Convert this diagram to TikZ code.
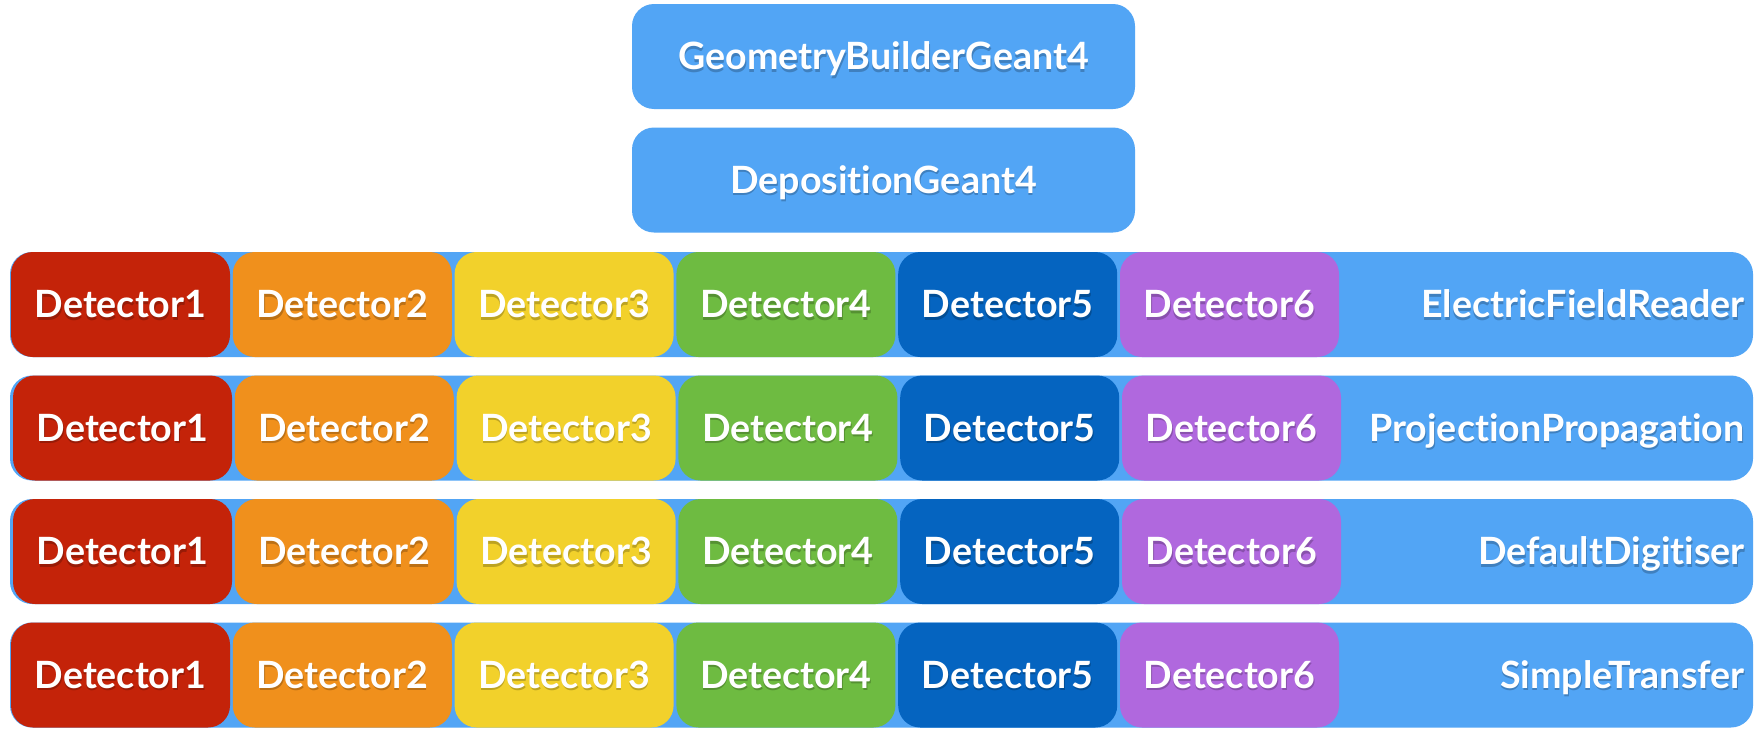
\documentclass[tikz,border=0pt]{standalone}
\usepackage{fontspec}
\setmainfont{Lato}[Ligatures=NoCommon]
\definecolor{cblue}{HTML}{52A5F5}
\definecolor{cred}{HTML}{C42309}
\definecolor{corange}{HTML}{F0901C}
\definecolor{cyellow}{HTML}{F2D12B}
\definecolor{cgreen}{HTML}{6EBB41}
\definecolor{cdblue}{HTML}{0564C0}
\definecolor{cpurple}{HTML}{B068DE}
\begin{document}
\begin{tikzpicture}[x=0.5pt,y=-0.5pt,
  box/.style={rounded corners=11pt, inner sep=0pt, draw=none},
  topbox/.style={box, fill=cblue, minimum width=251.5pt, minimum height=52.5pt},
  bar/.style={box, fill=cblue, minimum width=871.5pt, minimum height=52.5pt},
  det/.style={box, minimum width=109.5pt, minimum height=52.5pt},
  lbl/.style={font=\bfseries\fontsize{18.8}{21}\selectfont, text=white, text height=13.4pt, text depth=0pt, inner sep=0pt},
  lblsh/.style={lbl, text=black, text opacity=0.22, yshift=-1.2pt, xshift=0.3pt}]
\useasboundingbox (0,0) rectangle (1759,728);
\fill[white] (0,0) rectangle (1759,728);

\node[topbox] (geo) at (883.5,56.5) {};
\node[lblsh] at (geo.center) {GeometryBuilderGeant4};
\node[lbl] (geot) at (geo.center) {GeometryBuilderGeant4};

\node[topbox] (dep) at (883.5,180) {};
\node[lblsh] at (dep.center) {DepositionGeant4};
\node[lbl] (dept) at (dep.center) {DepositionGeant4};

\foreach \r/\x/\cy/\lab in {1/11/304.5/ElectricFieldReader, 2/13/428/ProjectionPropagation, 3/13/551.5/DefaultDigitiser, 4/11/675/SimpleTransfer}{
  \node[bar] (bar\r) at (881.5,\cy) {};
  \node[lblsh, anchor=east] at (1745,\cy) {\lab};
  \node[lbl, anchor=east] (mod\r) at (1745,\cy) {\lab};
  \foreach \c/\col in {1/cred,2/corange,3/cyellow,4/cgreen,5/cdblue,6/cpurple}{
    \node[det, fill=\col] (d\r\c) at ({\x+109.5+(\c-1)*221.8},\cy) {};
    \node[lblsh] at (d\r\c.center) {Detector\c};
    \node[lbl] (t\r\c) at (d\r\c.center) {Detector\c};
  }
}
\end{tikzpicture}
\end{document}
